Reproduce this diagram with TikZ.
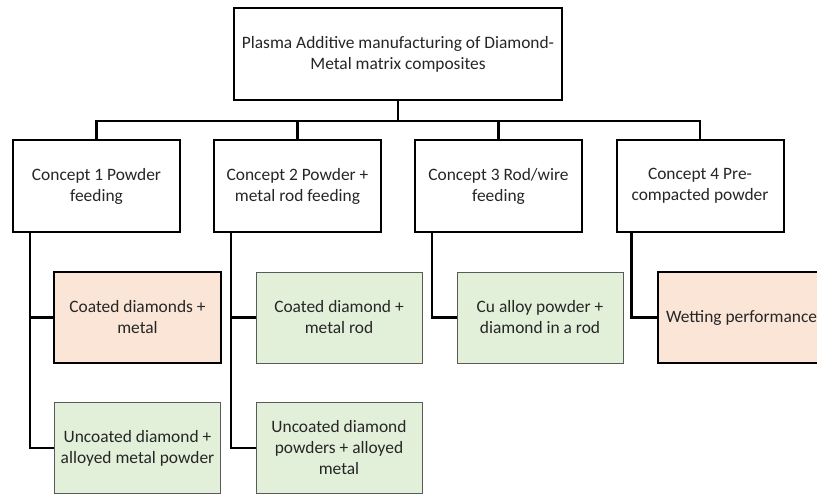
\documentclass[tikz,border=0pt]{standalone}
\usepackage{fontspec}
\setmainfont{Carlito}
\definecolor{paleorange}{HTML}{FBE5D6}
\definecolor{palegreen}{HTML}{E2F0D9}
\definecolor{greenedge}{HTML}{5A5A5A}
\begin{document}
\begin{tikzpicture}[x=1pt,y=-1pt,
  every node/.style={font=\fontsize{17.4}{21}\selectfont, align=center, text=black!85},
  whitebox/.style={draw=black, line width=2pt, fill=white, minimum width=167pt, minimum height=92pt, inner sep=0pt},
  topbox/.style={whitebox, minimum width=328pt},
  orangebox/.style={draw=black, line width=2.4pt, fill=paleorange, minimum width=167pt, minimum height=91pt, inner sep=0pt},
  greenbox/.style={draw=greenedge, line width=1pt, fill=palegreen, minimum width=166pt, minimum height=91pt, inner sep=0pt},
  link/.style={draw=black, line width=2.6pt, line join=miter}]
\useasboundingbox (0,0) rectangle (817,495);
\clip (0,0) rectangle (817,495);
\fill[white] (0,0) rectangle (817,495);

\coordinate (bus) at (398,121);

\node[topbox] (top) at (398,54) {Plasma Additive manufacturing of Diamond-\\Metal matrix composites};
\node[whitebox] (c1) at (96.5,186) {Concept 1 Powder\\feeding};
\node[whitebox] (c2) at (297.5,186) {Concept 2 Powder +\\metal rod feeding};
\node[whitebox] (c3) at (498.5,186) {Concept 3 Rod/wire\\feeding};
\node[whitebox] (c4) at (700,186) {Concept 4 Pre-\\compacted powder};

\node[orangebox] (d1a) at (137.5,317.5) {Coated diamonds +\\metal};
\node[greenbox] (d1b) at (137.5,448) {Uncoated diamond +\\alloyed metal powder};
\node[greenbox] (d2a) at (339,317.5) {Coated diamond +\\metal rod};
\node[greenbox] (d2b) at (339,448) {Uncoated diamond\\powders + alloyed\\metal};
\node[greenbox] (d3a) at (540,317.5) {Cu alloy powder +\\diamond in a rod};
\node[orangebox] (d4a) at (741.5,317.5) {Wetting performance};

\draw[link] (top.south) -- (bus);
\draw[link] (c1.north) -- (c1.north |- bus) -- (c4.north |- bus) -- (c4.north);
\draw[link] (c2.north |- bus) -- (c2.north);
\draw[link] (c3.north |- bus) -- (c3.north);

\draw[link] ([xshift=18pt]c1.south west) |- (d1b.west);
\draw[link] ([xshift=18pt]c1.south west |- d1a.west) -- (d1a.west);
\draw[link] ([xshift=18pt]c2.south west) |- (d2b.west);
\draw[link] ([xshift=18pt]c2.south west |- d2a.west) -- (d2a.west);
\draw[link] ([xshift=18pt]c3.south west) |- (d3a.west);
\draw[link] ([xshift=16pt]c4.south west) |- (d4a.west);
\end{tikzpicture}
\end{document}
